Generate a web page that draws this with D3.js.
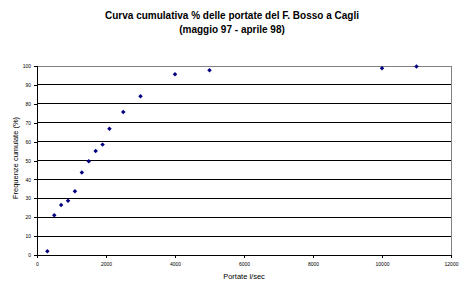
<!DOCTYPE html>
<html>
<head>
<meta charset="utf-8">
<script src="https://cdn.jsdelivr.net/npm/d3@7"></script>
<style>
  body { margin: 0; background: #fff; }
  svg { font-family: Arial, "Liberation Sans", sans-serif; }
  .tick text { font-size: 5px; fill: #000; }
</style>
</head>
<body>
<svg id="chart"></svg>
<script>
var portate = [300, 500, 700, 900, 1100, 1300, 1500, 1700, 1900, 2100, 2500, 3000, 4000, 5000, 10000, 11000];
var frequenze = [2, 21, 26.5, 28.7, 33.7, 43.7, 49.6, 55, 58.4, 66.8, 75.7, 84, 95.6, 97.7, 98.8, 99.7];
var xTicks = [0, 2000, 4000, 6000, 8000, 10000, 12000];
var yTicks = [0, 10, 20, 30, 40, 50, 60, 70, 80, 90, 100];

var width = 468, height = 291;
var plotLeft = 37, plotRight = 451, plotTop = 66, plotBottom = 255;

var svg = d3.select("#chart")
    .attr("width", width)
    .attr("height", height);

var x = d3.scaleLinear().domain([0, 12000]).range([plotLeft, plotRight]);
var y = d3.scaleLinear().domain([0, 100]).range([plotBottom, plotTop]);

// gridlines
svg.append("g")
    .selectAll("line")
    .data(yTicks.slice(1, -1))
    .enter().append("line")
        .attr("x1", plotLeft)
        .attr("x2", plotRight)
        .attr("y1", function(d) { return y(d); })
        .attr("y2", function(d) { return y(d); })
        .attr("stroke", "#000")
        .attr("stroke-width", 1)
        .attr("shape-rendering", "crispEdges");

// plot area border (top and right in grey)
svg.append("path")
    .attr("d", "M" + plotLeft + "," + plotTop + "H" + plotRight + "V" + plotBottom)
    .attr("fill", "none")
    .attr("stroke", "#808080")
    .attr("shape-rendering", "crispEdges");

var xAxis = svg.append("g")
    .attr("transform", "translate(0," + plotBottom + ")")
    .call(d3.axisBottom(x).tickValues(xTicks).tickFormat(d3.format("d")).tickSize(3).tickPadding(4));

var yAxis = svg.append("g")
    .attr("transform", "translate(" + plotLeft + ",0)")
    .call(d3.axisLeft(y).tickValues(yTicks).tickSize(3).tickPadding(3));

[xAxis, yAxis].forEach(function(a) {
    a.select(".domain").attr("stroke", "#000").attr("shape-rendering", "crispEdges");
    a.selectAll(".tick line").attr("stroke", "#000").attr("shape-rendering", "crispEdges");
    a.selectAll(".tick text").attr("font-family", "Arial, 'Liberation Sans', sans-serif");
});

// markers (square diamond, Excel style)
var diamond = d3.symbol().type(d3.symbolSquare).size(10);
svg.append("g")
    .selectAll("path")
    .data(portate)
    .enter().append("path")
        .attr("d", diamond)
        .attr("transform", function(d, i) {
            return "translate(" + x(d) + "," + y(frequenze[i]) + ") rotate(45)";
        })
        .attr("fill", "#000080");

// titles
var title = svg.append("text")
    .attr("x", 232)
    .attr("y", 19)
    .attr("text-anchor", "middle")
    .attr("font-size", "10px")
    .attr("font-weight", "bold");
title.append("tspan").attr("x", 232).text("Curva cumulativa % delle portate del F. Bosso a Cagli");
title.append("tspan").attr("x", 232).attr("dy", 14).text("(maggio 97 - aprile 98)");

svg.append("text")
    .attr("x", 244)
    .attr("y", 279)
    .attr("text-anchor", "middle")
    .attr("font-size", "7.5px")
    .text("Portate l/sec");

svg.append("text")
    .attr("transform", "translate(18,158) rotate(-90)")
    .attr("text-anchor", "middle")
    .attr("font-size", "7.5px")
    .text("Frequenze cumulate (%)");
</script>
</body>
</html>
